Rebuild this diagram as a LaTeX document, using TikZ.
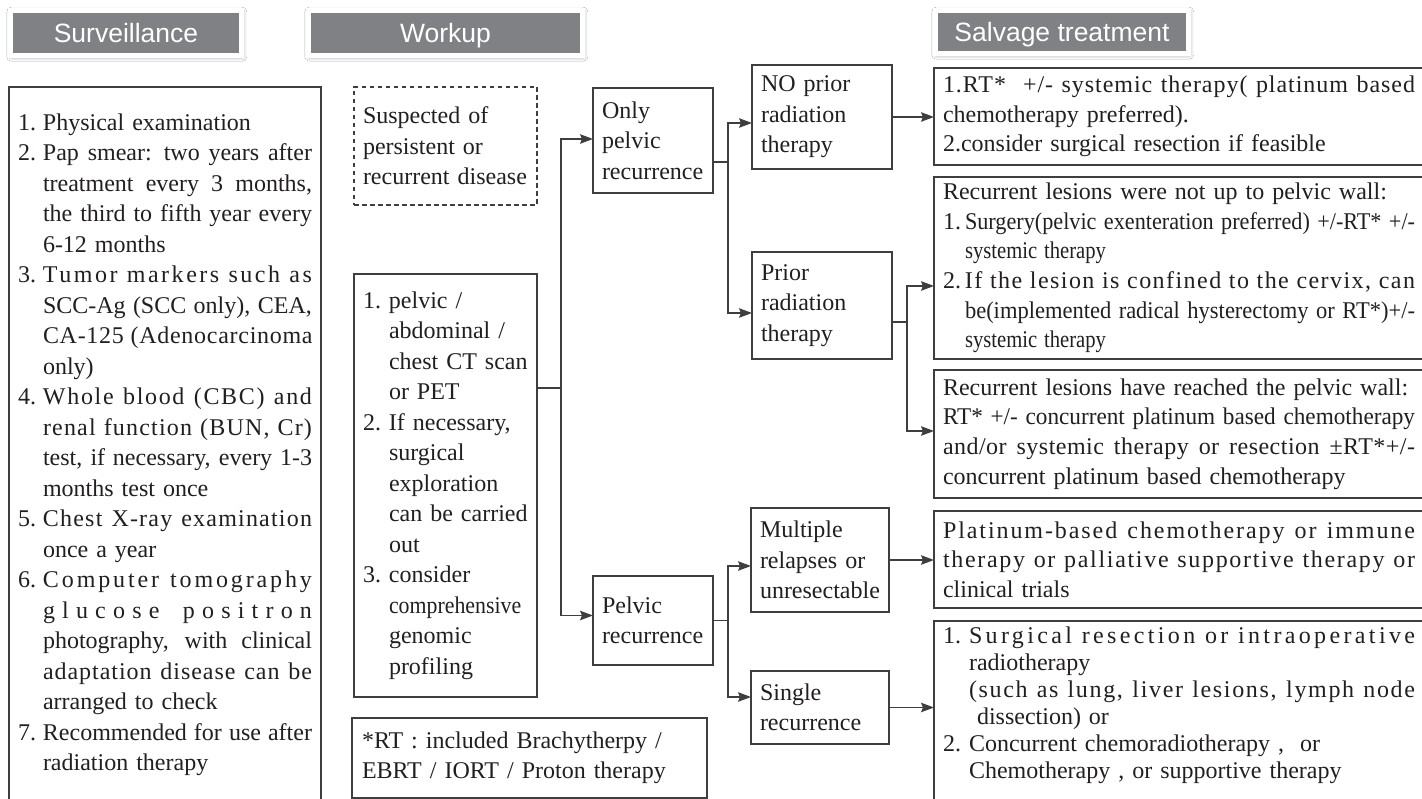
\documentclass[tikz,border=0pt]{standalone}
\usepackage{fontspec}
\setmainfont{Liberation Serif}
\newfontfamily\hdfont{Liberation Sans}
\usepackage{graphicx}
\usetikzlibrary{arrows.meta,shadows.blur,calc}

\definecolor{ink}{RGB}{35,31,32}
\definecolor{edge}{RGB}{62,62,62}
\definecolor{hdgray}{RGB}{128,129,133}

\hyphenpenalty=10000
\exhyphenpenalty=10000

% line helpers: numbered item, hanging indent, justified / squeezed line
\newlength\hang
\newlength\tw
\newlength\sqw
\newcommand\setw[2]{\setlength\tw{#1}\setlength\hang{#2}\setlength\sqw{\tw}\addtolength\sqw{-\hang}}
\newcommand\itm[1]{\makebox[\hang][l]{#1}}
\newcommand\ind{\hspace*{\hang}}
\newcommand\jl[2][0]{\makebox[\sqw][s]{\addfontfeature{LetterSpace=#1}%
  \spaceskip=\fontdimen2\font plus 1fil\relax #2}}
\newcommand\sq[1]{\resizebox{\sqw}{\height}{#1}}

\tikzset{
  box/.style={draw=edge, line width=1.4pt, anchor=north west, outer sep=0pt,
    inner xsep=9pt, inner ysep=0pt, align=left, text=ink,
    font=\fontsize{24}{30.5}\selectfont},
  tight/.style={font=\fontsize{24}{29.7}\selectfont},
  hdr/.style={fill=hdgray, draw=white, line width=5pt, text=white, anchor=north west,
    outer sep=0pt, inner sep=0pt, minimum height=45pt, text height=24pt, text depth=4pt,
    font=\hdfont\fontsize{26.5}{30}\selectfont,
    blur shadow={shadow xshift=0.8pt, shadow yshift=-1.2pt, shadow blur radius=4.5pt,
      shadow opacity=45}},
  ln/.style={draw=edge, line width=1.3pt},
  arr/.style={ln, -{Stealth[length=13pt, width=9.5pt, inset=2pt]}},
}

\begin{document}
\begin{tikzpicture}[x=1pt, y=-1pt]
\useasboundingbox (0,0) rectangle (1422,799);
\clip (0,0) rectangle (1422,799);
\fill[white] (0,0) rectangle (1422,799);

% column headers
\node[hdr, minimum width=231pt] (h1) at (10.5,10.5) {Surveillance};
\node[hdr, minimum width=274pt] (h2) at (308.5,10.5) {Workup};
\node[hdr, minimum width=253pt, minimum height=43pt] (h3) at (935.5,10.5) {Salvage treatment};

% surveillance list
\node[box, text width=294pt, minimum width=312pt, minimum height=716pt] (sv) at (9,87) {\setw{294pt}{25pt}%
\itm{1.}Physical examination\\
\itm{2.}\jl{Pap smear: two years after}\\
\ind\jl{treatment every 3 months,}\\
\ind\jl{the third to fifth year every}\\
\ind 6-12 months\\
\itm{3.}\jl[10.5]{Tumor markers such as}\\
\ind\jl{SCC-Ag (SCC only), CEA,}\\
\ind\jl[3]{CA-125 (Adenocarcinoma}\\
\ind only)\\
\itm{4.}\jl[7]{Whole blood (CBC) and}\\
\ind\jl[5]{renal function (BUN, Cr)}\\
\ind\jl{test, if necessary, every 1-3}\\
\ind months test once\\
\itm{5.}\jl[5]{Chest X-ray examination}\\
\ind once a year\\
\itm{6.}\jl[12]{Computer tomography}\\
\ind\jl[30]{glucose positron}\\
\ind\jl{photography, with clinical}\\
\ind\jl[4]{adaptation disease can be}\\
\ind arranged to check\\
\itm{7.}\jl{Recommended for use after}\\
\ind radiation therapy};

% workup
\node[box, text width=165pt, minimum width=183pt, minimum height=118pt,
  line width=1.2pt, dash pattern=on 4.5pt off 3.5pt] (sp) at (354,87)
  {Suspected of\\persistent or\\recurrent disease};
\node[box, text width=165pt, minimum width=183pt, minimum height=423pt] (wk) at (354,274) {\setw{165pt}{26pt}%
\itm{1.}pelvic /\\
\ind abdominal /\\
\ind chest CT scan\\
\ind or PET\\
\itm{2.}If necessary,\\
\ind surgical\\
\ind exploration\\
\ind can be carried\\
\ind out\\
\itm{3.}consider\\
\ind\scalebox{0.91}[1]{comprehensive}\\
\ind genomic\\
\ind profiling};
\node[box, text width=335pt, minimum width=355pt, minimum height=80pt, inner xsep=10pt] (rt) at (352,718)
  {*RT : included Brachytherpy /\\EBRT / IORT / Proton therapy};

% recurrence type
\node[box, text width=102pt, minimum width=120pt, minimum height=105pt] (op) at (593,88) {Only\\pelvic\\recurrence};
\node[box, text width=102pt, minimum width=120pt, minimum height=89pt] (pr) at (593,576) {Pelvic\\recurrence};

% second level
\node[box, text width=122pt, minimum width=140pt, minimum height=104pt] (no) at (752,65) {NO prior\\radiation\\therapy};
\node[box, text width=122pt, minimum width=140pt, minimum height=107pt] (pri) at (752,252) {Prior\\radiation\\therapy};
\node[box, text width=120pt, minimum width=138pt, minimum height=104pt] (mu) at (751,508) {Multiple\\relapses or\\unresectable};
\node[box, text width=120pt, minimum width=138pt, minimum height=73pt] (si) at (751,671) {Single\\recurrence};

% salvage treatment
\node[box, tight, text width=472pt, minimum height=97pt] (s1) at (934,68) {\setw{472pt}{0pt}%
\jl[4]{1.RT*\ \ +/- systemic therapy( platinum based}\\
chemotherapy preferred).\\
2.consider surgical resection if feasible};
\node[box, tight, text width=472pt, minimum height=182pt] (s2) at (934,177) {\setw{472pt}{22pt}%
Recurrent lesions were not up to pelvic wall:\\
\itm{1.}\sq{Surgery(pelvic exenteration preferred) +/-RT* +/-}\\
\ind\scalebox{0.86}[1]{systemic therapy}\\
\itm{2.}\jl[6]{If the lesion is confined to the cervix, can}\\
\ind\sq{be(implemented radical hysterectomy or RT*)+/-}\\
\ind\scalebox{0.86}[1]{systemic therapy}};
\node[box, tight, text width=472pt, minimum height=128pt] (s3) at (934,370) {\setw{472pt}{0pt}%
Recurrent lesions have reached the pelvic wall:\\
\sq{RT* +/- concurrent platinum based chemotherapy}\\
\jl[2]{and/or systemic therapy or resection ±RT*+/-}\\
concurrent platinum based chemotherapy};
\node[box, tight, text width=472pt, minimum height=97pt] (s4) at (934,511) {\setw{472pt}{0pt}%
\jl[8]{Platinum-based chemotherapy or immune}\\
\jl[7]{therapy or palliative supportive therapy or}\\
clinical trials};
\node[box, text width=472pt, minimum height=182pt, font=\fontsize{24}{27}\selectfont] (s5) at (934,621) {\setw{472pt}{26pt}%
\itm{1.}\jl[14]{Surgical resection or intraoperative}\\
\ind radiotherapy\\
\ind\jl[7]{(such as lung, liver lesions, lymph node}\\
\ind\ dissection) or\\
\itm{2.}Concurrent chemoradiotherapy ,\ \ or\\
\ind Chemotherapy , or supportive therapy\rule[-19pt]{0pt}{1pt}};

% connectors
\coordinate (w1) at ($(wk.east)+(0,-97.5)$);
\coordinate (b1) at ($(w1)+(24,0)$);
\draw[ln] (w1) -- (b1);
\draw[arr] (b1) |- ($(op.west)+(0,-1.5)$);
\draw[arr] (b1) |- ($(pr.west)+(0,-5)$);

\coordinate (o1) at ($(op.east)+(0,21.5)$);
\coordinate (b2) at ($(o1)+(15,0)$);
\draw[ln] (o1) -- (b2);
\draw[arr] (b2) |- ($(no.west)+(0,6)$);
\draw[arr] (b2) |- ($(pri.west)+(0,7.5)$);

\draw[arr] (no.east) -- (s1.west |- no.east);

\coordinate (p1) at ($(pri.east)+(0,16.5)$);
\coordinate (b3) at ($(p1)+(15,0)$);
\draw[ln] (p1) -- (b3);
\draw[arr] (b3) |- ($(s2.west)+(0,18)$);
\draw[arr] (b3) |- ($(s3.west)+(0,-3)$);

\coordinate (q1) at (pr.east);
\coordinate (b4) at ($(q1)+(15,0)$);
\draw[ln] (q1) -- (b4);
\draw[arr] (b4) |- ($(mu.west)+(0,6)$);
\draw[arr] (b4) |- ($(si.west)+(0,-10.5)$);

\draw[arr] (mu.east) -- (s4.west |- mu.east);
\draw[arr] (si.east) -- (s5.west |- si.east);
\end{tikzpicture}
\end{document}
